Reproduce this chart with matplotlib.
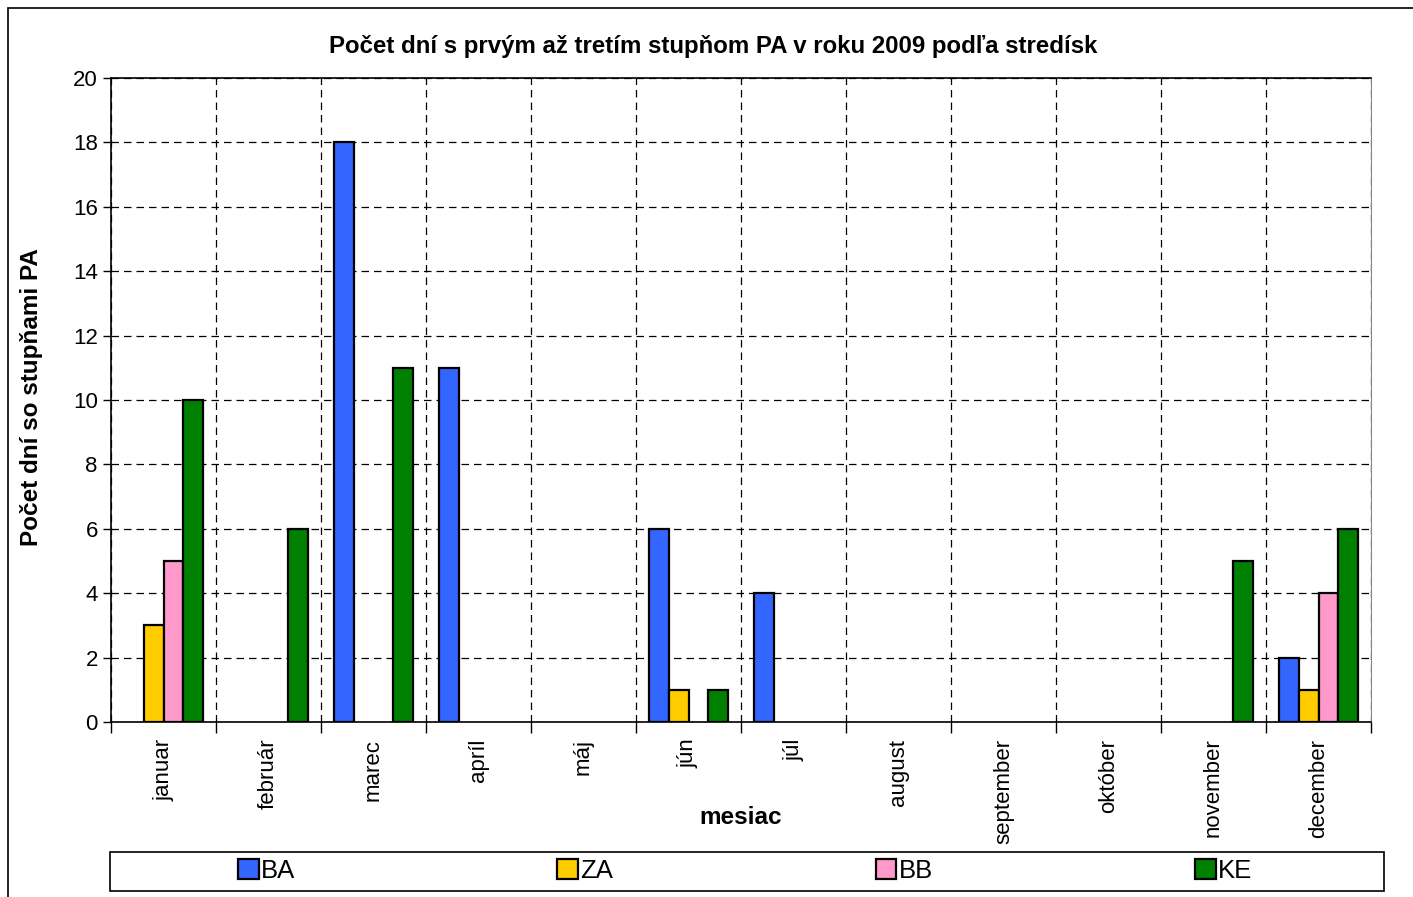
import matplotlib.pyplot as plt
import numpy as np
from matplotlib.patches import Rectangle

plt.rcParams['font.family'] = ['Liberation Sans', 'DejaVu Sans']

# ---- data ----
months = ['januar', 'február', 'marec', 'apríl', 'máj', 'jún', 'júl',
          'august', 'september', 'október', 'november', 'december']
ba = [0, 0, 18, 11, 0, 6, 4, 0, 0, 0, 0, 2]
za = [3, 0, 0, 0, 0, 1, 0, 0, 0, 0, 0, 1]
bb = [5, 0, 0, 0, 0, 0, 0, 0, 0, 0, 0, 4]
ke = [10, 6, 11, 0, 0, 1, 0, 0, 0, 0, 5, 6]

series = [('BA', ba, '#3366FF'), ('ZA', za, '#FFCC00'),
          ('BB', bb, '#FF99CC'), ('KE', ke, '#008000')]

W, H = 1413, 897
fig = plt.figure(figsize=(W / 100, H / 100), dpi=100)
ax = fig.add_axes([111 / W, 1 - 722 / H, 1260 / W, 644 / H])

# outer chart frame
fig.add_artist(Rectangle((8 / W, -0.05), 1.1, 1 - 8 / H + 0.05, transform=fig.transFigure,
                         fill=False, edgecolor='black', lw=1.2))

x = np.arange(len(months))
bw = 0.19
for i, (name, vals, col) in enumerate(series):
    vals = np.array(vals)
    nz = vals > 0  # empty months get no bar outline
    ax.bar(x[nz] + (i - 1.5) * bw, vals[nz], bw, color=col, edgecolor='black', lw=1.6,
           label=name, zorder=3)

ax.set_xlim(-0.5, len(months) - 0.5)
ax.set_ylim(0, 20)
ax.set_yticks(np.arange(0, 21, 2))
ax.set_xticks(x)
ax.set_xticklabels(months, rotation=90, fontsize=16)
ax.set_xticks(np.arange(-0.5, len(months)), minor=True)
ax.tick_params(axis='x', which='major', length=0, pad=12)
ax.tick_params(axis='x', which='minor', length=8, width=1)
ax.tick_params(axis='y', labelsize=16, length=6, width=1)

ax.grid(axis='y', which='major', color='black', linestyle=(0, (6, 4)), lw=0.9)
ax.grid(axis='x', which='minor', color='black', linestyle=(0, (6, 4)), lw=0.9)
ax.set_axisbelow(True)

for s in ['left', 'bottom', 'top']:
    ax.spines[s].set_color('black')
    ax.spines[s].set_linewidth(1.2)
ax.spines['right'].set_color('#888888')

fig.text(713 / W, 1 - 47 / H, 'Počet dní s prvým až tretím stupňom PA v roku 2009 podľa stredísk',
         ha='center', va='center', fontsize=17.3, fontweight='bold')
fig.text(32 / W, 1 - 397 / H, 'Počet dní so stupňami PA', rotation=90,
         ha='center', va='center', fontsize=17.5, fontweight='bold')
fig.text(741 / W, 1 - 817 / H, 'mesiac', ha='center', va='center', fontsize=17.5,
         fontweight='bold')

# legend frame and entries
fig.add_artist(Rectangle((110 / W, 1 - 891 / H), 1274 / W, 39 / H, transform=fig.transFigure,
                         fill=False, edgecolor='black', lw=1.2))
handles, labels = ax.get_legend_handles_labels()
fig.legend(handles, labels, ncol=4, loc='center left', frameon=False,
           bbox_to_anchor=(238 / W, 1 - 871 / H), fontsize=18.5,
           handlelength=0.8, handleheight=0.8, handletextpad=0.1,
           columnspacing=10.2, borderaxespad=0, borderpad=0)

fig.savefig('out.png', dpi=100)
